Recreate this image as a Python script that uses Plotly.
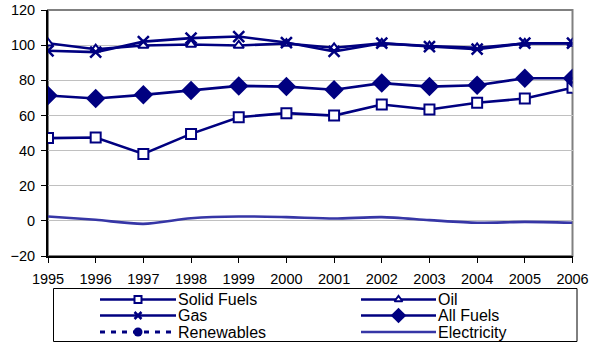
import plotly.graph_objects as go

years = [str(y) for y in range(1995, 2007)]
solid_fuels = [47.1, 47.4, 38.1, 49.5, 59.0, 61.3, 59.9, 66.2, 63.4, 67.2, 69.6, 75.7]
oil = [101.1, 97.7, 99.8, 100.4, 99.8, 100.9, 98.5, 101.0, 99.5, 98.5, 101.0, 101.0]
gas = [96.8, 96.0, 102.0, 104.0, 104.9, 101.5, 96.4, 101.1, 99.2, 97.7, 101.1, 101.1]
all_fuels = [71.3, 69.6, 71.7, 74.2, 76.8, 76.4, 74.6, 78.4, 76.4, 77.2, 81.2, 81.2]
renewables = [None] * 12
electricity = [2.5, 0.6, -1.7, 1.5, 2.5, 2.1, 1.3, 2.1, 0.4, -1.1, -0.6, -1.1]

W, H = 595, 343
NAVY = "#000080"
ELEC = "#3636A6"
LW = 2.6

series = [
    dict(name="Solid Fuels", y=solid_fuels, line=dict(color=NAVY, width=LW),
         marker=dict(symbol="square", size=10, color="white", line=dict(color=NAVY, width=2)),
         lmarker=dict(symbol="square", size=7, color="white", line=dict(color=NAVY, width=2))),
    dict(name="Oil", y=oil, line=dict(color=NAVY, width=LW),
         marker=dict(symbol="triangle-up", size=9, color="white", line=dict(color=NAVY, width=2)),
         lmarker=dict(symbol="triangle-up", size=7, color="white", line=dict(color=NAVY, width=2))),
    dict(name="Gas", y=gas, line=dict(color=NAVY, width=LW),
         marker=dict(symbol="x-thin", size=11, color=NAVY, line=dict(color=NAVY, width=2.5)),
         lmarker=dict(symbol="x-thin", size=7, color=NAVY, line=dict(color=NAVY, width=2.5))),
    dict(name="All Fuels", y=all_fuels, line=dict(color=NAVY, width=LW),
         marker=dict(symbol="diamond", size=15, color=NAVY),
         lmarker=dict(symbol="diamond", size=12, color=NAVY)),
    dict(name="Renewables", y=renewables, line=dict(color=NAVY, width=3, dash="5px,6px"),
         marker=dict(symbol="circle", size=9, color=NAVY),
         lmarker=dict(symbol="circle", size=9, color=NAVY)),
    dict(name="Electricity", y=electricity, line=dict(color=ELEC, width=LW, shape="spline", smoothing=0.8),
         marker=None, lmarker=None),
]

fig = go.Figure()
for s in series:
    fig.add_trace(go.Scatter(x=years, y=s["y"], name=s["name"],
                             mode="lines+markers" if s["marker"] else "lines",
                             line=s["line"], marker=s["marker"], showlegend=False,
                             xaxis="x", yaxis="y"))

# manual legend (pixel layout on an overlay axis)
col_x = [(100, 176), (361, 436)]
row_y = [299.5, 315.5, 332]
annotations = []
for i, s in enumerate(series):
    c, r = i % 2, i // 2
    x0, x1 = col_x[c]
    y = row_y[r]
    ln = dict(s["line"])
    ln.pop("shape", None)
    ln.pop("smoothing", None)
    fig.add_trace(go.Scatter(x=[x0, x1], y=[y, y], mode="lines", line=ln,
                             showlegend=False, hoverinfo="skip", xaxis="x2", yaxis="y2"))
    if s["lmarker"]:
        fig.add_trace(go.Scatter(x=[(x0 + x1) / 2], y=[y], mode="markers", marker=s["lmarker"],
                                 showlegend=False, hoverinfo="skip", xaxis="x2", yaxis="y2"))
    annotations.append(dict(x=x1 + 1, y=y, xref="x2", yref="y2", text=s["name"],
                            showarrow=False, xanchor="left", yanchor="middle",
                            borderpad=0, font=dict(size=16, color="black")))

shapes = [
    dict(type="rect", xref="x domain", yref="y domain", x0=0, x1=1, y0=0, y1=1,
         line=dict(color="#808080", width=2), layer="below"),
    dict(type="rect", xref="x2", yref="y2", x0=53.5, x1=577, y0=288.5, y1=341.5,
         line=dict(color="black", width=1), layer="below"),
]

fig.update_layout(
    width=W, height=H,
    margin=dict(l=0, r=0, t=0, b=0, autoexpand=False),
    paper_bgcolor="white", plot_bgcolor="rgba(0,0,0,0)",
    font=dict(family="Liberation Sans, Arial, sans-serif", size=14, color="black"),
    showlegend=False,
    annotations=annotations,
    shapes=shapes,
    xaxis=dict(domain=[48 / W, 572.5 / W], anchor="y", type="category", range=[0, 11],
               automargin=False, ticklabelstandoff=4,
               showgrid=False, showline=True, linecolor="black", linewidth=2,
               ticks="outside", ticklen=5, tickwidth=1, tickcolor="black",
               tickfont=dict(size=14.5)),
    yaxis=dict(domain=[1 - 256 / H, 1 - 10 / H], anchor="x", range=[-20, 120], dtick=20,
               automargin=False, ticklabelstandoff=3,
               showgrid=True, gridcolor="#C0C0C0", gridwidth=1, zeroline=False,
               showline=True, linecolor="black", linewidth=2,
               ticks="outside", ticklen=5, tickwidth=1, tickcolor="black",
               tickfont=dict(size=14.5)),
    xaxis2=dict(domain=[0, 1], anchor="y2", range=[0, W], visible=False, fixedrange=True,
                automargin=False),
    yaxis2=dict(domain=[0, 1], anchor="x2", range=[H, 0], visible=False, fixedrange=True,
                automargin=False),
)

fig.write_html("out.html", config={"displayModeBar": False},
               post_script="document.body.style.margin='0';document.body.style.overflow='hidden';")
